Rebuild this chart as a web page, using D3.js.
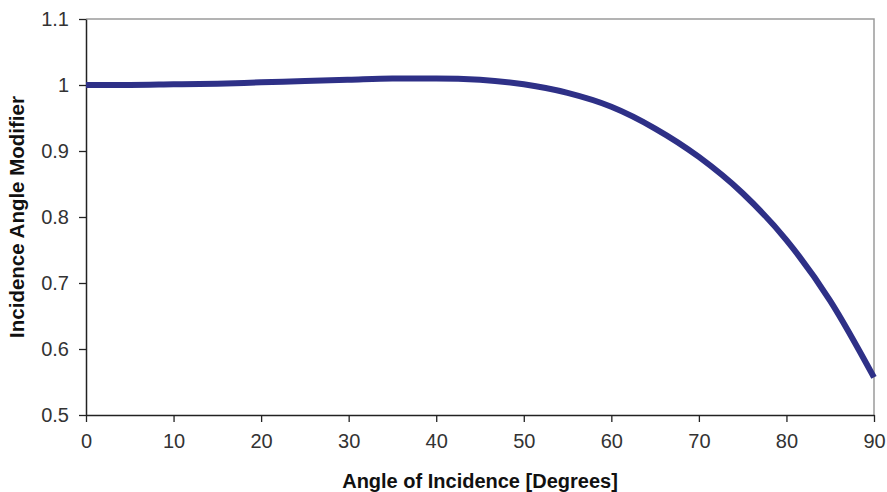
<!DOCTYPE html>
<html>
<head>
<meta charset="utf-8">
<script src="https://cdn.jsdelivr.net/npm/d3@7"></script>
<style>
  body { margin: 0; background: #fff; }
  text { font-family: "Liberation Sans", Arial, sans-serif; }
</style>
</head>
<body>
<script>
// angle of incidence in degrees
let angles = [0, 5, 10, 15, 20, 25, 30, 35, 40, 45, 50, 55, 60, 65, 70, 75, 80, 85, 90];

// incidence angle modifier
let modifier = [1.000, 1.000, 1.001, 1.002, 1.004, 1.006, 1.008, 1.010, 1.010, 1.008, 1.001,
                0.988, 0.967, 0.934, 0.891, 0.836, 0.765, 0.673, 0.557];

let xTicks = [0, 10, 20, 30, 40, 50, 60, 70, 80, 90];
let yTicks = [0.5, 0.6, 0.7, 0.8, 0.9, 1.0, 1.1];

let width = 887;
let height = 492;
let margin = ({top: 19, right: 13, bottom: 77, left: 86});

let data = angles.map((a, i) => ({angle: a, value: modifier[i]}));

let svg = d3.select("body")
  .append("svg")
  .attr("width", width)
  .attr("height", height);

let x = d3.scaleLinear()
  .domain([0, 90])
  .range([margin.left, width - margin.right]);

let y = d3.scaleLinear()
  .domain([0.5, 1.1])
  .range([height - margin.bottom, margin.top]);

// grey frame on top and right
svg.append("path")
  .attr("d", `M${x(0)},${y(1.1)}H${x(90)}V${y(0.5)}`)
  .attr("fill", "none")
  .attr("stroke", "#9a9a9a")
  .attr("stroke-width", 1.5);

// x axis
svg.append("g")
  .attr("transform", `translate(0,${y(0.5)})`)
  .call(d3.axisBottom(x).tickValues(xTicks).tickSize(7).tickSizeOuter(0).tickPadding(12))
  .call(g => g.select(".domain").attr("stroke", "#222").attr("stroke-width", 1.5))
  .call(g => g.selectAll(".tick line").attr("stroke", "#222").attr("stroke-width", 1.3))
  .call(g => g.selectAll(".tick text")
    .attr("fill", "#333")
    .attr("font-size", 20)
    .attr("font-family", "Liberation Sans, Arial, sans-serif"));

// y axis
svg.append("g")
  .attr("transform", `translate(${x(0)},0)`)
  .call(d3.axisLeft(y).tickValues(yTicks).tickFormat(d3.format("~g")).tickSize(7).tickSizeOuter(0).tickPadding(10))
  .call(g => g.select(".domain").attr("stroke", "#222").attr("stroke-width", 1.5))
  .call(g => g.selectAll(".tick line").attr("stroke", "#222").attr("stroke-width", 1.3))
  .call(g => g.selectAll(".tick text")
    .attr("fill", "#333")
    .attr("font-size", 20)
    .attr("font-family", "Liberation Sans, Arial, sans-serif"));

// the curve
let line = d3.line()
  .x(d => x(d.angle))
  .y(d => y(d.value))
  .curve(d3.curveMonotoneX);

svg.append("path")
  .datum(data)
  .attr("fill", "none")
  .attr("stroke", "#2e3087")
  .attr("stroke-width", 6)
  .attr("d", line);

// axis titles
svg.append("text")
  .attr("x", (x(0) + x(90)) / 2)
  .attr("y", 488)
  .attr("text-anchor", "middle")
  .attr("font-weight", "bold")
  .attr("font-size", 20)
  .attr("fill", "#111")
  .text("Angle of Incidence [Degrees]");

svg.append("text")
  .attr("transform", `translate(24,${(y(0.5) + y(1.1)) / 2}) rotate(-90)`)
  .attr("text-anchor", "middle")
  .attr("font-weight", "bold")
  .attr("font-size", 20.5)
  .attr("fill", "#111")
  .text("Incidence Angle Modifier");
</script>
</body>
</html>
